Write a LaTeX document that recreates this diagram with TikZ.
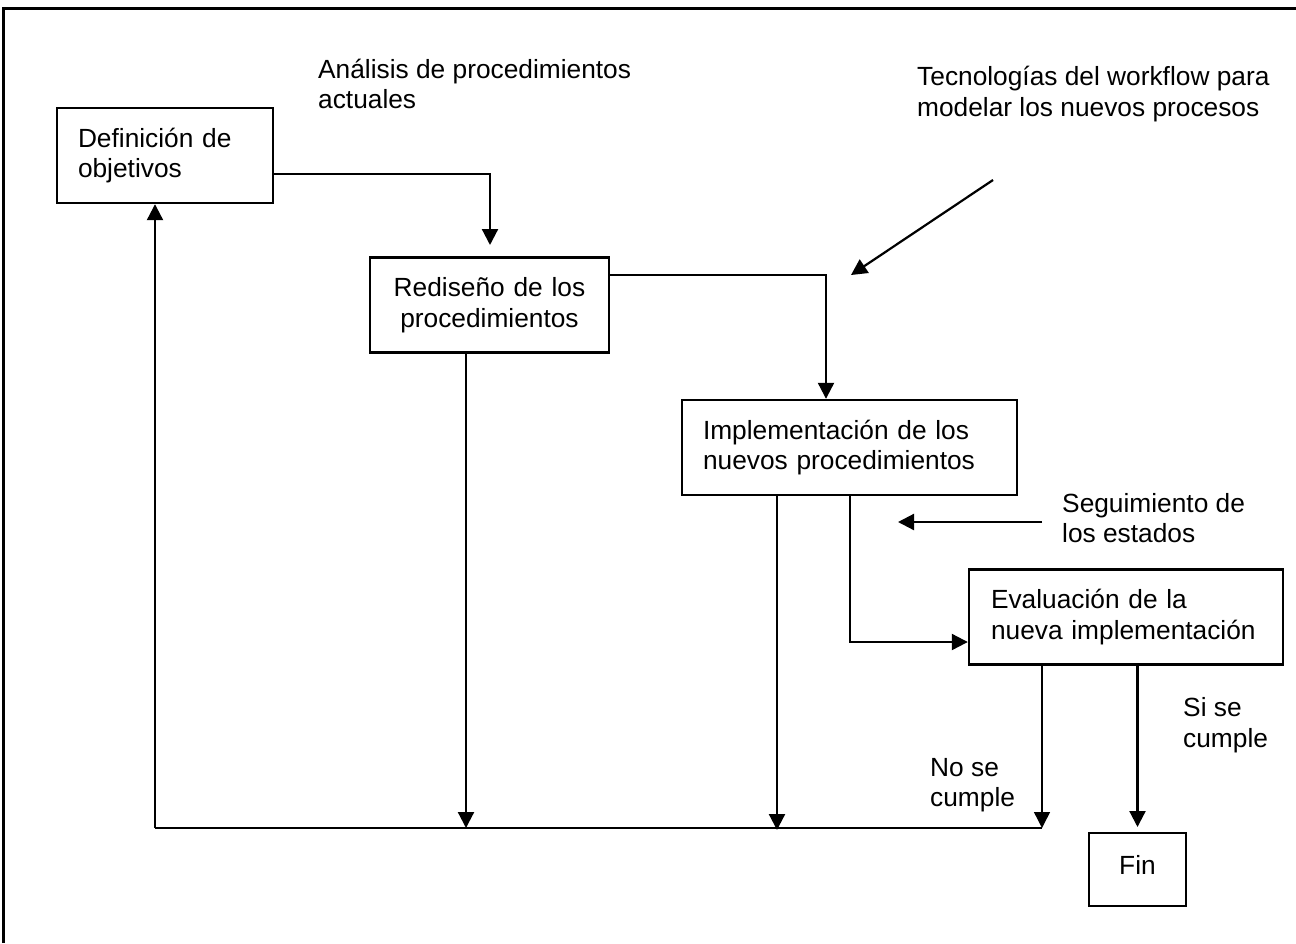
\documentclass[tikz,border=0pt]{standalone}
\usepackage{fontspec}
\setmainfont{Liberation Sans}
\usetikzlibrary{arrows.meta}
\def\boxfont{\fontsize{26.3}{30.5}\selectfont}

\begin{document}
\begin{tikzpicture}[x=1pt,y=-1pt,
	caja/.style={draw, line width=2.4pt, align=left, inner xsep=21pt, inner ysep=0pt, minimum height=95pt, font=\boxfont},
	nota/.style={align=left, anchor=west, inner sep=0pt, font=\boxfont},
	linea/.style={line width=2.2pt},
	flecha/.style={line width=2.2pt, -{Triangle[width=16pt,length=16pt]}}]
				\useasboundingbox (0,0) rectangle (1296,943);
				\draw[line width=3pt] (3,943) -- (3,8) -- (1296,8);
				
				\node[caja, text width=174pt] (defin) at (165,155.5) {Definición de\\objetivos};
				\node[caja, text width=197pt, align=center] (redis) at (489.5,305) {Rediseño de los\\procedimientos};
				\node[caja, text width=293pt] (implem) at (849.5,447.5) {Implementación de los\\nuevos procedimientos};
				\node[caja, text width=270pt, inner xsep=22pt] (evalua) at (1126,617) {Evaluación de la\\nueva implementación};
				\node[caja, minimum width=97pt, minimum height=73pt, text depth=10pt] (fin) at (1137.5,869.5) {Fin};
				
				\node[nota] (analisis) at (318,84) {Análisis de procedimientos\\actuales};
				\node[nota] (tecno) at (917,94) {Tecnologías del workflow para\\modelar los nuevos procesos};
				\node[nota] (segui) at (1062,518) {Seguimiento de\\los estados};
				\node[nota] (nocumple) at (930,785) {No se\\cumple};
				\node[nota] (sicumple) at (1183,725) {Si se\\cumple};
				
				\coordinate (codoA) at (490,174);
				\coordinate (puntaA) at (490,245);
				\draw[flecha] (defin.east |- codoA) -- (codoA) -- (puntaA);
				
				\coordinate (codoB) at (826,275);
				\draw[flecha] (redis.east |- codoB) -- (codoB) -- (codoB |- implem.north);
				
				\coordinate (tecA) at (993,180);
				\coordinate (tecB) at (851,275);
				\draw[flecha] (tecA) -- (tecB);
				
				\coordinate (segA) at (1042,522);
				\coordinate (segB) at (898,522);
				\draw[flecha] (segA) -- (segB);
				
				\coordinate (codoE) at (850,642);
				\draw[flecha] (implem.south -| codoE) |- (evalua.west |- codoE);
				
				\coordinate (esqI) at (155,828);
				\coordinate (esqD) at (1042,828);
				\coordinate (bajaR) at (466,828);
				\coordinate (bajaI) at (777,830);
				\coordinate (corteE) at (1042,712);
				\coordinate (puntaF) at (1137.5,827);
				\draw[linea] (esqI) -- (esqD);
				\draw[flecha] (esqI) -- (defin.south -| esqI);
				\draw[flecha] (redis.south -| bajaR) -- (bajaR);
				\draw[flecha] (implem.south -| bajaI) -- (bajaI);
				\draw[linea] (evalua.south -| corteE) -- (corteE);
				\draw[flecha, line width=1.4pt] (corteE) -- (esqD);
				\draw[flecha] (evalua.south -| puntaF) -- (puntaF);
\end{tikzpicture}
\end{document}
